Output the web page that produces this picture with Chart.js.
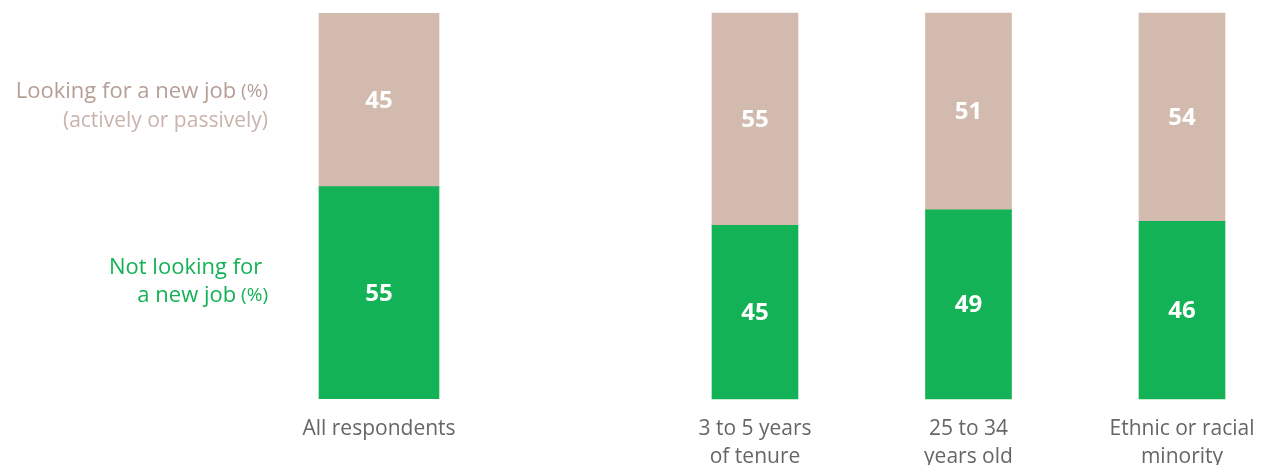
<!DOCTYPE html>
<html>
<head>
<meta charset="utf-8">
<script src="https://cdn.jsdelivr.net/npm/chart.js@4.4.1/dist/chart.umd.min.js"></script>
<style>
  html, body { margin: 0; padding: 0; background: #fff; }
  .wrap { display: flex; width: 1261px; height: 465px; }
  .left { position: relative; width: 560px; height: 465px; }
  .right { position: relative; width: 701px; height: 465px; }
</style>
</head>
<body>
<div class="wrap">
  <div class="left"><canvas id="allChart"></canvas></div>
  <div class="right"><canvas id="groupChart"></canvas></div>
</div>
<script>
const allLabels = ["All respondents"];
const allNotLooking = [55];
const allLooking = [45];

const groupLabels = [
  ["3 to 5 years", "of tenure"],
  ["25 to 34", "years old"],
  ["Ethnic or racial", "minority"],
];
const groupNotLooking = [45, 49, 46];
const groupLooking = [55, 51, 54];

const GREEN = "#14b256";
const TAUPE = "#d2bbae";
const FONT = "'Open Sans', sans-serif";

// white value labels in the middle of each segment
const valueLabels = {
  id: "valueLabels",
  afterDatasetsDraw(chart) {
    const { ctx } = chart;
    ctx.save();
    ctx.fillStyle = "#fff";
    ctx.font = `700 24px ${FONT}`;
    ctx.textAlign = "center";
    ctx.textBaseline = "middle";
    chart.data.datasets.forEach((ds, i) => {
      chart.getDatasetMeta(i).data.forEach((bar, j) => {
        const v = ds.data[j];
        if (v == null) return;
        ctx.fillText(String(v), bar.x, (bar.y + bar.base) / 2 + 1);
      });
    });
    ctx.restore();
  },
};

// series captions on the left of the first bar
const sideLegend = {
  id: "sideLegend",
  afterDraw(chart) {
    const { ctx } = chart;
    const right = 268;
    ctx.save();
    ctx.textAlign = "right";
    ctx.textBaseline = "middle";

    const drawWithUnit = (text, y, color) => {
      ctx.fillStyle = color;
      ctx.font = `400 19px ${FONT}`;
      const unit = " (%)";
      const w = ctx.measureText(unit).width;
      ctx.fillText(unit, right, y);
      ctx.font = `400 22px ${FONT}`;
      ctx.fillText(text, right - w, y);
    };

    drawWithUnit("Looking for a new job", 92, "#b49e96");
    ctx.fillStyle = "#c9b4ab";
    ctx.font = `400 21px ${FONT}`;
    ctx.fillText("(actively or passively)", right, 121);

    ctx.fillStyle = GREEN;
    ctx.font = `400 22px ${FONT}`;
    ctx.fillText("Not looking for ", right, 268);
    drawWithUnit("a new job", 296, GREEN);
    ctx.restore();
  },
};

function xScale(offset) {
  return {
    stacked: true,
    offset,
    grid: { display: false },
    border: { display: false },
    ticks: {
      color: "#666",
      font: { family: FONT, size: 21, lineHeight: 1.33 },
      padding: 8,
      maxRotation: 0,
      autoSkip: false,
    },
    afterFit(scale) {
      // keep the plot area fixed by the layout padding only
      scale.height = 66;
      scale.paddingLeft = 0;
      scale.paddingRight = 0;
    },
  };
}

const yScale = { stacked: true, min: 0, max: 100, display: false };

new Chart(document.getElementById("allChart"), {
  type: "bar",
  data: {
    labels: allLabels,
    datasets: [
      { label: "Not looking for a new job (%)", data: allNotLooking, backgroundColor: GREEN, barThickness: 120 },
      { label: "Looking for a new job (%)", data: allLooking, backgroundColor: TAUPE, barThickness: 120 },
    ],
  },
  options: {
    responsive: true,
    maintainAspectRatio: false,
    animation: false,
    layout: { padding: { top: 13, left: 279, right: 81, bottom: 0 } },
    scales: { x: xScale(true), y: yScale },
    plugins: { legend: { display: false }, tooltip: { enabled: false } },
  },
  plugins: [valueLabels, sideLegend],
});

new Chart(document.getElementById("groupChart"), {
  type: "bar",
  data: {
    labels: groupLabels,
    datasets: [
      { label: "Not looking for a new job (%)", data: groupNotLooking, backgroundColor: GREEN, barThickness: 86, clip: false },
      { label: "Looking for a new job (%)", data: groupLooking, backgroundColor: TAUPE, barThickness: 86, clip: false },
    ],
  },
  options: {
    responsive: true,
    maintainAspectRatio: false,
    animation: false,
    layout: { padding: { top: 13, left: 195, right: 79, bottom: 0 } },
    scales: { x: xScale(false), y: yScale },
    plugins: { legend: { display: false }, tooltip: { enabled: false } },
  },
  plugins: [valueLabels],
});
</script>
</body>
</html>
